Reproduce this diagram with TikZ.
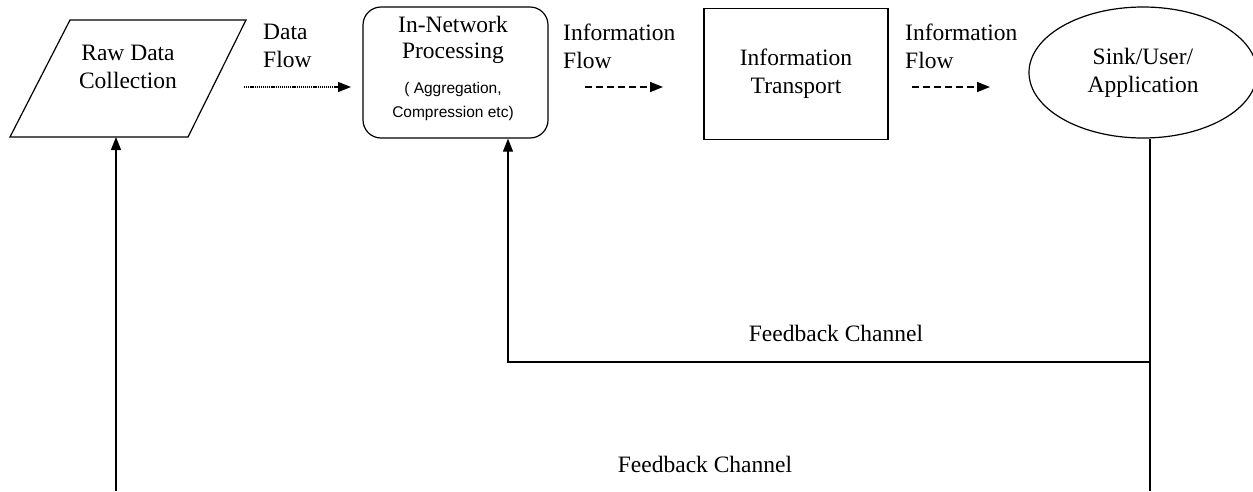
\documentclass[tikz,border=0pt]{standalone}
\usepackage{fontspec}
\setmainfont{Liberation Serif}
\newfontfamily\arialfont{Liberation Sans}
\usetikzlibrary{arrows.meta,shapes.geometric}
\tikzset{
  serif/.style={font=\fontsize{23.5}{28}\selectfont},
  sans/.style={font=\arialfont\fontsize{15.5}{19}\selectfont},
  shapebox/.style={draw,line width=1.2pt,inner sep=0pt},
  txt/.style={serif,align=center,inner sep=0pt},
  lbl/.style={serif,align=left,inner sep=0pt,anchor=west},
  tip/.style={-{Triangle[length=13pt,width=10pt]}},
  solidarr/.style={line width=1.2pt,tip},
  dotarr/.style={line width=1.3pt,dash pattern=on 1.2pt off 0.9pt,tip},
  dasharr/.style={line width=1.5pt,dash pattern=on 7pt off 4pt,tip},
  plainline/.style={line width=1.2pt},
}
\begin{document}
\begin{tikzpicture}[x=1pt,y=-1pt]
\useasboundingbox (0,0) rectangle (1253,491);

% parallelogram
\coordinate (rawtl) at (70,20);
\coordinate (rawtr) at (246,20);
\coordinate (rawbr) at (188,137);
\coordinate (rawbl) at (10,137);
\draw[plainline,line join=miter] (rawtl) -- (rawtr) -- (rawbr) -- (rawbl) -- cycle;
\node[txt] (raw) at (128,67) {Raw Data\\Collection};

\node[shapebox,rectangle,rounded corners=18pt,minimum width=185pt,minimum height=131pt] (proc) at (455.5,72.5) {};
\node[serif,anchor=base] (proc1) at (453,32) {In-Network};
\node[serif,anchor=base] (proc2) at (453,58) {Processing};
\node[sans,anchor=base] (proc3) at (453,93) {( Aggregation,};
\node[sans,anchor=base] (proc4) at (453,117) {Compression etc)};

\node[shapebox,rectangle,minimum width=184pt,minimum height=131pt,txt] (trans) at (796,74) {Information\\Transport};

\node[shapebox,ellipse,minimum width=228pt,minimum height=131pt,txt] (sink) at (1143,72.5) {Sink/User/\\Application};

% flow labels
\node[lbl] (dflab) at (263,46) {Data\\Flow};
\node[lbl] (if1lab) at (563,46) {Information\\Flow};
\node[lbl] (if2lab) at (905,46) {Information\\Flow};

% flow arrows
\coordinate (d1s) at (244,87);
\coordinate (d1e) at (351,87);
\draw[dotarr] (d1s) -- (d1e);
\coordinate (i1s) at (585,87);
\coordinate (i1e) at (663,87);
\draw[dasharr] (i1s) -- (i1e);
\coordinate (i2s) at (912,87);
\coordinate (i2e) at (990,87);
\draw[dasharr] (i2s) -- (i2e);

% feedback
\coordinate (sb) at (1150,491);
\coordinate (fb1r) at (1150,362);
\coordinate (fb1l) at (508,362);
\coordinate (fb2l) at (116,491);
\draw[plainline] (sb) -- (sb |- sink.south);
\draw[solidarr] (fb1r) -- (fb1l) -- (fb1l |- proc.south);
\draw[solidarr] (fb2l) -- (fb2l |- rawbl);
\node[serif] (fb1lab) at (836,333) {Feedback Channel};
\node[serif] (fb2lab) at (705,464) {Feedback Channel};
\end{tikzpicture}
\end{document}
